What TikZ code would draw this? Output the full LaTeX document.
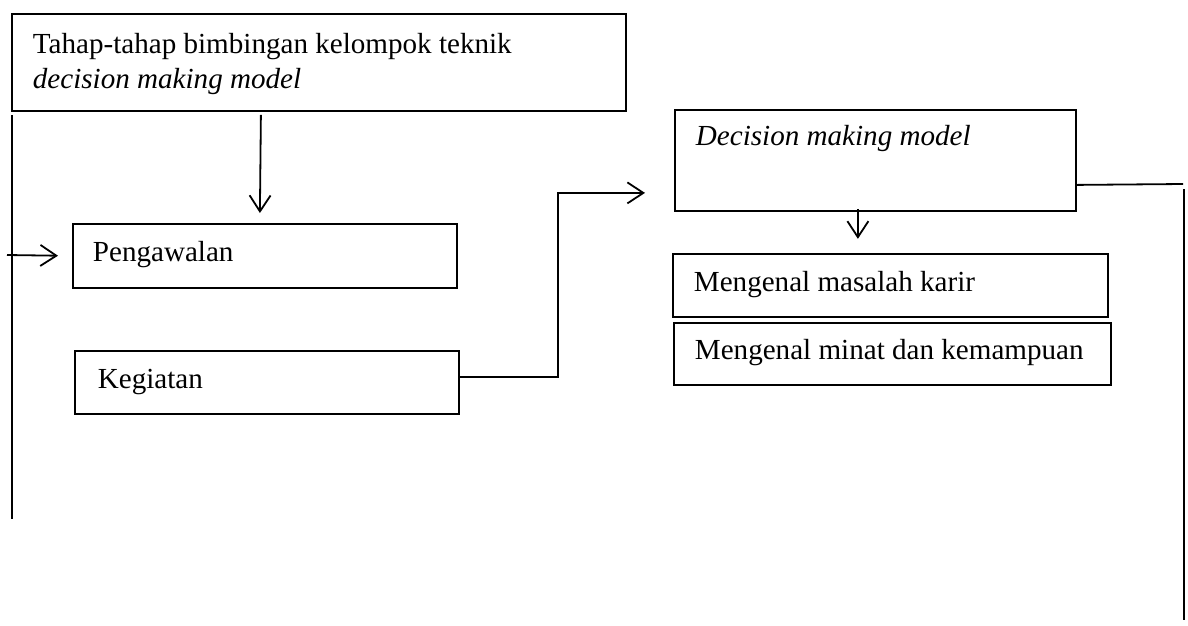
\documentclass[tikz,border=0pt]{standalone}
\usepackage{fontspec}
\setmainfont{Liberation Serif}
\usetikzlibrary{arrows.meta}
\newcommand{\boxline}[2]{\makebox[#1][l]{#2}}
\tikzset{
  box/.style={draw, line width=1.8pt, anchor=north west, inner ysep=0pt,
    font=\fontsize{29.1pt}{35pt}\selectfont},
  conn/.style={line width=1.8pt},
  arr/.style={conn, -{Straight Barb[length=16pt,width=21pt]}}
}
\begin{document}
\begin{tikzpicture}[x=1pt,y=-1pt]
\useasboundingbox (0,0) rectangle (1188,625);
% boxes
\node[box, align=flush left, inner xsep=21pt, text width=572pt, text height=40pt, text depth=57pt] (top) at (11,13)
  {Tahap-tahap bimbingan kelompok teknik\\ \textit{decision making model}};
\node[box, inner xsep=20pt, text height=38pt, text depth=26pt] (peng) at (72,223) {\boxline{344pt}{Pengawalan}};
\node[box, inner xsep=23pt, text height=38pt, text depth=25pt] (keg) at (74,350) {\boxline{338pt}{Kegiatan}};
\node[box, inner xsep=21pt, text height=36pt, text depth=65pt] (dmm) at (674,109) {\boxline{359pt}{\textit{Decision making model}}};
\node[box, inner xsep=21pt, text height=38pt, text depth=25pt] (mas) at (672,253) {\boxline{393pt}{Mengenal masalah karir}};
\node[box, inner xsep=21pt, text height=37pt, text depth=25pt] (min) at (673,322) {\boxline{395pt}{Mengenal minat dan kemampuan}};
% free ends
\coordinate (l1) at (12,115);
\coordinate (l2) at (12,519);
\coordinate (la) at (7,255);
\coordinate (r1) at (1183,184);
\coordinate (r2) at (1184,189);
\coordinate (r3) at (1184,620);
% connectors
\draw[conn] (l1) -- (l2);
\draw[arr, shorten >=14pt] (la) -- (peng.west);
\draw[arr] ([xshift=-4pt,yshift=-3pt]peng.north |- top.south) -- ([xshift=-5pt,yshift=10pt]peng.north);
\draw[arr] ([yshift=5.5pt]keg.east) -- ++(98,0) |- ([xshift=-29pt,yshift=-32.5pt]dmm.west);
\draw[arr] ([xshift=-17.5pt,yshift=3pt]dmm.south) -- ([xshift=-17.5pt,yshift=-27pt]dmm.south);
\draw[conn] ([yshift=-24.5pt]dmm.east) -- (r1);
\draw[conn] (r2) -- (r3);
\end{tikzpicture}
\end{document}
